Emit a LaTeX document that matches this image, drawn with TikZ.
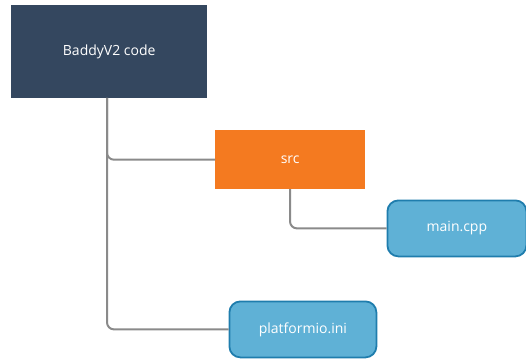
\documentclass[tikz,border=0pt]{standalone}
\usepackage{fontspec}
\setmainfont{Open Sans}
\definecolor{navy}{HTML}{34475F}
\definecolor{orng}{HTML}{F47A20}
\definecolor{lblue}{HTML}{5FB1D6}
\definecolor{dblue}{HTML}{1F7DAD}
\definecolor{conn}{HTML}{8A8A8A}
\begin{document}
\begin{tikzpicture}[x=1pt,y=-1pt,
  box/.style={anchor=north west,inner sep=0pt,text=white,font=\fontsize{14}{16}\selectfont},
  leaf/.style={box,fill=lblue,draw=dblue,line width=1.8pt,rounded corners=11pt},
  link/.style={draw=conn,line width=2pt,rounded corners=7pt}]
\useasboundingbox (0,0) rectangle (526,358);
\node[box,fill=navy,minimum width=196pt,minimum height=93pt] (root) at (11,5) {BaddyV2 code};
\node[box,fill=orng,minimum width=150pt,minimum height=59pt] (src) at (215,130) {src};
\node[leaf,minimum width=139pt,minimum height=56pt] (main) at (386.5,199.5) {main.cpp};
\node[leaf,minimum width=147pt,minimum height=56pt] (pio) at (228.5,300.5) {platformio.ini};
\coordinate (r) at (107,98);
\coordinate (s) at (290,189);
\draw[link] (r) |- (src.west);
\draw[link] (r) |- (pio.west);
\draw[link] (s) |- (main.west);
\end{tikzpicture}
\end{document}
